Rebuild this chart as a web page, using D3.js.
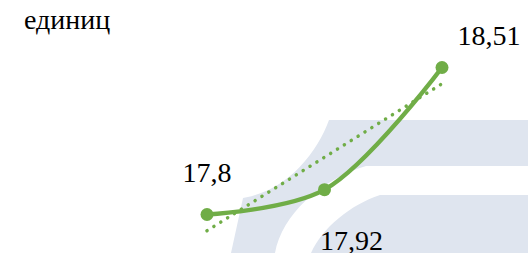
<!DOCTYPE html>
<html>
<head>
<meta charset="utf-8">
<script src="https://cdn.jsdelivr.net/npm/d3@7"></script>
<style>
  body { margin: 0; background: #fff; }
  svg { display: block; }
</style>
</head>
<body>
<svg id="chart" width="528" height="253"></svg>
<script>
// data
const periods = ["1", "2", "3"]
const values = [17.8, 17.92, 18.51]
const valueLabels = ["17,8", "17,92", "18,51"]
const unitLabel = "единиц"

const width = 528, height = 253
const green = "#70ad47"
const serif = "'Liberation Serif'"
const fontSize = "28px"   // larger sizes fall back to a sans face here

const svg = d3.select("#chart")

// light logo in the background
const logo = svg.append("g").attr("fill", "#dfe5ef")
logo.append("path")
  .attr("d", "M528,120 L329,120 C318,150 290,190 243,198 L231,253 L275,253 C282,215 320,180 366,166 L528,166 Z")
logo.append("path")
  .attr("d", "M528,195 L380,195 C350,205 322,228 311,253 L528,253 Z")

const x = d3.scalePoint()
  .domain(periods)
  .range([207, 442])

const y = d3.scaleLinear()
  .domain(d3.extent(values))
  .range([214.5, 67.5])

const pts = periods.map((p, i) => ({p: p, v: values[i], label: valueLabels[i]}))

// linear trend (least squares over period index)
const n = values.length
const xs = d3.range(n)
const mx = d3.mean(xs), my = d3.mean(values)
const slope = d3.sum(xs, i => (i - mx) * (values[i] - my)) / d3.sum(xs, i => (i - mx) ** 2)
const icpt = my - slope * mx
const trend = [0, n - 1].map(i => ({p: periods[i], v: icpt + slope * i}))

const line = d3.line()
  .x(d => x(d.p))
  .y(d => y(d.v))

svg.append("path")
  .datum(trend)
  .attr("d", line)
  .attr("fill", "none")
  .attr("stroke", green)
  .attr("stroke-width", 3.5)
  .attr("stroke-linecap", "round")
  .attr("stroke-dasharray", "0.1 8")

svg.append("path")
  .datum(pts)
  .attr("d", line.curve(d3.curveCatmullRom.alpha(0.5)))
  .attr("fill", "none")
  .attr("stroke", green)
  .attr("stroke-width", 4.5)
  .attr("stroke-linecap", "round")

svg.selectAll("circle")
  .data(pts)
  .enter().append("circle")
    .attr("cx", d => x(d.p))
    .attr("cy", d => y(d.v))
    .attr("r", 6.5)
    .attr("fill", green)

// label placement around each point
const offs = [[0, -33], [27, 60], [47, -23]]
svg.selectAll("text.lbl")
  .data(pts)
  .enter().append("text")
    .attr("class", "lbl")
    .attr("x", (d, i) => x(d.p) + offs[i][0])
    .attr("y", (d, i) => y(d.v) + offs[i][1])
    .attr("text-anchor", "middle")
    .style("font-family", serif)
    .style("font-size", fontSize)
    .text(d => d.label)

svg.append("text")
  .attr("x", 24)
  .attr("y", 29)
  .style("font-family", serif)
  .style("font-size", fontSize)
  .text(unitLabel)
</script>
</body>
</html>
